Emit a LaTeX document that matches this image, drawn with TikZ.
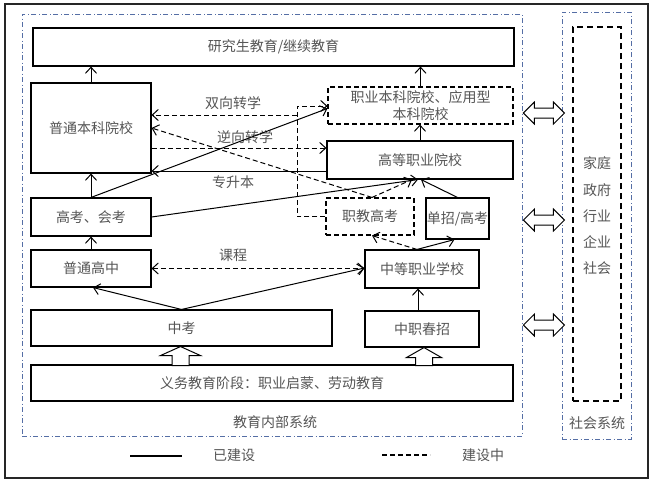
\documentclass[tikz,border=0pt]{standalone}
\usepackage{fontspec}
\setmainfont{Noto Sans CJK SC}
\usetikzlibrary{arrows.meta,calc}
\definecolor{txt}{RGB}{85,85,85}
\definecolor{sysblue}{RGB}{85,110,165}
\begin{document}
\begin{tikzpicture}[x=1pt,y=-1pt,
  box/.style={draw=black,line width=1.1pt,rectangle,inner sep=0pt,text=txt,
    font=\fontsize{14}{16.5}\selectfont,align=center},
  dashpat/.style={dash pattern=on 5pt off 3pt},
  dbox/.style={box,dashpat},
  sysbox/.style={draw=sysblue,line width=0.9pt,rectangle,inner sep=0pt,
    dash pattern=on 5pt off 2.5pt on 1pt off 2.5pt},
  lbl/.style={text=txt,font=\fontsize{14}{16.5}\selectfont,inner sep=0pt},
  conn/.style={draw=black,line width=1pt,-{Straight Barb[length=6pt,width=11pt]}},
  dconn/.style={conn,dashpat},
  dbl/.style={draw=black,line width=1pt,dashpat,
    {Straight Barb[length=6pt,width=11pt]}-{Straight Barb[length=6pt,width=11pt]}},
  hollow/.style={draw=black,line width=1pt,fill=white,line join=miter}
]
\useasboundingbox (0,0) rectangle (651,482);
\draw[line width=1.2pt,black!85] (5,4) rectangle (648,478);

% system frames
\node[sysbox,minimum width=500,minimum height=422] (inner) at (272,225) {};
\node[sysbox,minimum width=69,minimum height=427] (social) at (596.5,225.5) {};
\node[draw=black,line width=1.3pt,dash pattern=on 6pt off 4pt,rectangle,inner sep=0pt,
  minimum width=48,minimum height=374] (actors) at (597,214) {};
\node[lbl,align=center,font=\fontsize{14}{26.3}\selectfont] (actortxt) at (597,216)
  {家庭\\政府\\行业\\企业\\社会};
\node[lbl] (innerlbl) at (275,422) {教育内部系统};
\node[lbl] (sociallbl) at (597,423) {社会系统};

% boxes
\node[box,minimum width=481,minimum height=38] (grad) at (273.5,47) {研究生教育/继续教育};
\node[box,minimum width=120,minimum height=90] (ptbk) at (91,128) {普通本科院校};
\node[dbox,minimum width=185,minimum height=37] (zybk) at (420.5,105.5) {职业本科院校、应用型\\本科院校};
\node[box,minimum width=186,minimum height=38] (gdzy) at (420,160) {高等职业院校};
\node[box,minimum width=120,minimum height=38] (gk) at (91,217) {高考、会考};
\node[dbox,minimum width=88,minimum height=37] (zjgk) at (370,216.5) {职教高考};
\node[box,minimum width=63,minimum height=41] (dz) at (457.5,218.5) {单招/高考};
\node[box,minimum width=120,minimum height=37] (ptgz) at (91,268.5) {普通高中};
\node[box,minimum width=114,minimum height=38] (zdzy) at (422,269) {中等职业学校};
\node[box,minimum width=301,minimum height=36] (zk) at (181.5,328) {中考};
\node[box,minimum width=114,minimum height=36] (zzcz) at (422,329) {中职春招};
\node[box,minimum width=482,minimum height=36] (yw) at (272,383) {义务教育阶段：职业启蒙、劳动教育};

% labels
\node[lbl] (l1) at (233,103) {双向转学};
\node[lbl] (l2) at (245,137) {逆向转学};
\node[lbl] (l3) at (233,182) {专升本};
\node[lbl] (l4) at (233,255) {课程};

% vertical arrows
\draw[conn] (ptbk.north) -- (ptbk.north |- grad.south);
\draw[conn] (gk.north) -- (ptbk.south);
\draw[conn] (ptgz.north) -- (gk.south);
\draw[conn] (zybk.north) -- (zybk.north |- grad.south);
\draw[conn] (gdzy.north) -- (gdzy.north |- zybk.south);
\coordinate (zzn) at ($(zzcz.north)+(-4,0)$);
\draw[conn] (zzn) -- (zzn |- zdzy.south);

% bracket route 职教高考 -> 职业本科, 双向转学
\coordinate (b1) at (297,216.5);
\coordinate (b2) at (297,106);
\coordinate (b3) at (297,115);
\draw[dconn] (zjgk.west) -- (b1) -- (b2) -- (b2 -| zybk.west);
\draw[dconn] (b3) -- (b3 -| ptbk.east);

% 逆向转学
\coordinate (n1) at ($(ptbk.east)+(0,20)$);
\draw[dconn] (n1) -- (n1 -| gdzy.west);

% 专升本
\coordinate (s1) at ($(gdzy.west)+(0,11)$);
\draw[conn] (s1) -- (s1 -| ptbk.east);

% 职教高考 -> 普通本科 / 高等职业
\coordinate (zjt) at ($(zjgk.north)+(2,0)$);
\draw[dconn] (zjt) -- (ptbk.east);
\draw[dconn] (zjt) -- ($(gdzy.south)+(-8,0)$);

% 高考 -> 职业本科, 高等职业
\draw[conn] (gk.north) -- ($(zybk.west)+(0,3)$);
\draw[conn] (gk.east) -- ($(gdzy.south)+(-2,0)$);
\draw[conn] (dz.north) -- ($(gdzy.south)+(1,0)$);

% 中等职业 -> 职教高考 / 单招
\coordinate (zdt) at ($(zdzy.north)+(-5,0)$);
\draw[dconn] (zdt) -- ($(zjgk.south)+(2,0)$);
\draw[conn] (zdt) -- ($(dz.south)+(-3,0)$);

% 课程
\draw[dbl] (ptgz.east) -- (ptgz.east -| zdzy.west);

% 中考 -> 普通高中 / 中等职业
\draw[conn] (zk.north) -- ($(ptgz.south)+(2,0)$);
\draw[conn] (zk.north) -- ($(zdzy.west)+(0,-1)$);

% hollow up arrows
\draw[hollow] ($(zk.south)+(-1,0)$) -- ++(20,9) -- ++(-11.5,0) -- ++(0,10) -- ++(-17,0)
  -- ++(0,-10) -- ++(-11.5,0) -- cycle;
\draw[hollow] ($(zzcz.south)+(2,0)$) -- ++(17.5,10) -- ++(-9,0) -- ++(0,8) -- ++(-17,0)
  -- ++(0,-8) -- ++(-9,0) -- cycle;

% double hollow arrows between systems
\foreach \dy/\nm in {-112/da,-5/db,100/dc}{
  \coordinate (\nm) at ($(inner.east)+(1,\dy)$);
  \draw[hollow] (\nm) -- ++(11,-11) -- ++(0,6) -- ++(19,0) -- ++(0,-6) -- ++(11,11)
    -- ++(-11,11) -- ++(0,-6) -- ++(-19,0) -- ++(0,6) -- cycle;
}

% legend
\coordinate (la1) at (130,456);
\coordinate (la2) at (182,456);
\draw[line width=1.2pt] (la1) -- (la2);
\node[lbl] (lt1) at (234,455) {已建设};
\coordinate (lb1) at (382,455);
\coordinate (lb2) at (430,455);
\draw[line width=1.2pt,dashpat] (lb1) -- (lb2);
\node[lbl] (lt2) at (483,455) {建设中};
\end{tikzpicture}
\end{document}
